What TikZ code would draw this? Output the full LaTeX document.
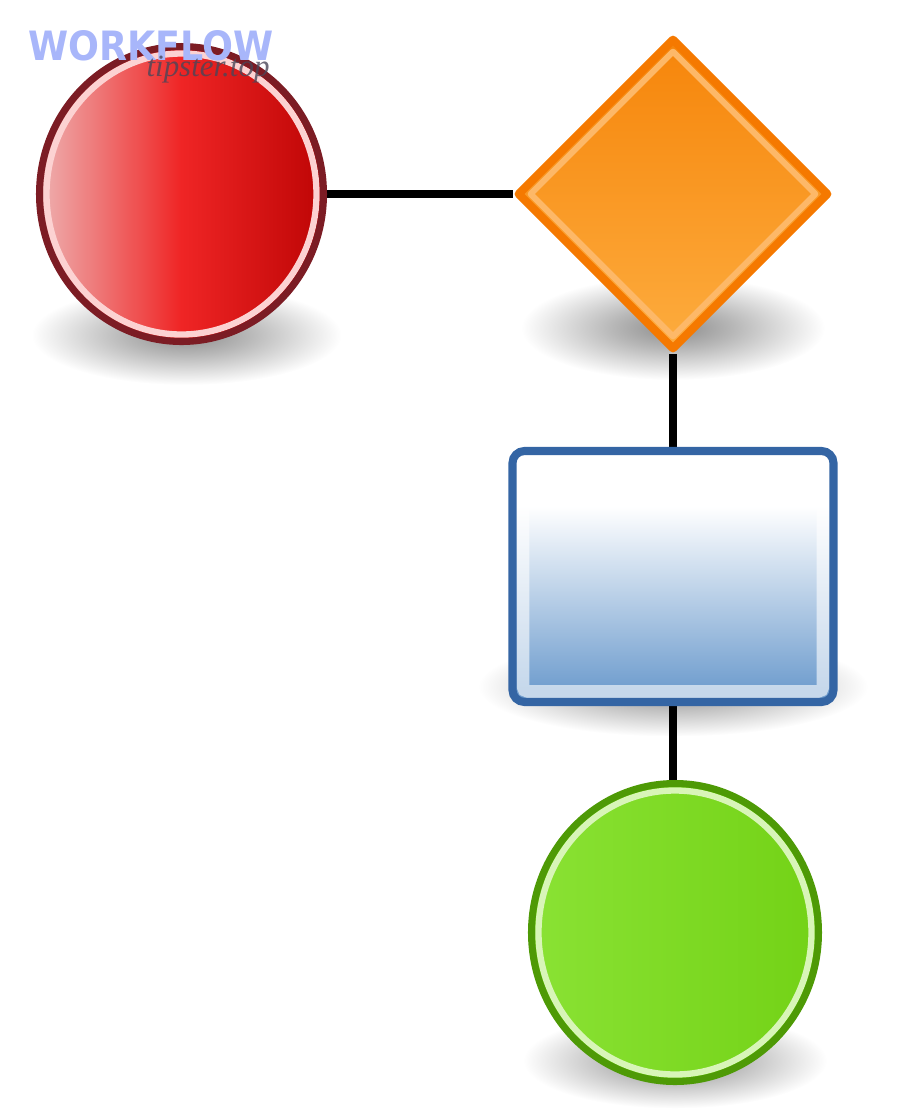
\documentclass[tikz,border=0pt]{standalone}
\usepackage{fontspec}
\usetikzlibrary{shapes.geometric, backgrounds, calc}

\newfontfamily\markfont{DejaVu Sans}
\newfontfamily\sitefont{Liberation Serif}

\definecolor{redrim}{HTML}{7C1C24}
\definecolor{redring}{HTML}{FCD2D2}
\definecolor{redleft}{HTML}{EEB0B0}
\definecolor{redmid}{HTML}{EF2525}
\definecolor{redright}{HTML}{BE0505}
\definecolor{orangerim}{HTML}{F57900}
\definecolor{orangering}{HTML}{FDB868}
\definecolor{orangetop}{HTML}{F6850A}
\definecolor{orangebot}{HTML}{FDAC3E}
\definecolor{bluerim}{HTML}{3465A4}
\definecolor{bluefill}{HTML}{729FCF}
\definecolor{greenrim}{HTML}{4E9A06}
\definecolor{greenring}{HTML}{D8F5B8}
\definecolor{greenleft}{HTML}{8AE234}
\definecolor{greenright}{HTML}{73D216}
\definecolor{marktext}{HTML}{A8B6FA}
\definecolor{sitetext}{HTML}{4A4658}

\pgfdeclareverticalshading{boxfade}{100bp}{color(0bp)=(bluefill); color(28bp)=(bluefill); color(64bp)=(white); color(100bp)=(white)}
\pgfdeclareradialshading{shadowfade}{\pgfpoint{0bp}{0bp}}{color(0bp)=(black!45); color(10bp)=(black!28); color(25bp)=(white); color(50bp)=(white)}

\tikzset{
	startnode/.style = {ellipse, minimum width = 2.84cm, minimum height = 2.95cm, inner sep = 0pt,
		draw = redrim, line width = 2pt,
		left color = redleft, right color = redright, middle color = redmid,
		path picture = {\draw [redring, line width = 1.8pt] (path picture bounding box.center) ellipse [x radius = 1.35cm, y radius = 1.405cm];}},
	endnode/.style = {ellipse, minimum width = 2.87cm, minimum height = 2.98cm, inner sep = 0pt,
		draw = greenrim, line width = 2pt,
		left color = greenleft, right color = greenright,
		path picture = {\draw [greenring, line width = 1.8pt] (path picture bounding box.center) ellipse [x radius = 1.365cm, y radius = 1.42cm];}},
	decision/.style = {diamond, minimum width = 3.12cm, minimum height = 3.12cm, inner sep = 0pt,
		draw = orangerim, line width = 2.3pt, line join = round,
		top color = orangetop, bottom color = orangebot,
		path picture = {\draw [orangering, line width = 1.7pt]
			([yshift = -0.12cm] path picture bounding box.north) -- ([xshift = -0.12cm] path picture bounding box.east)
			-- ([yshift = 0.12cm] path picture bounding box.south) -- ([xshift = 0.12cm] path picture bounding box.west) -- cycle;}},
	task/.style = {rectangle, rounded corners = 0.12cm, minimum width = 3.21cm, minimum height = 2.51cm, inner sep = 0pt,
		draw = bluerim, line width = 2.3pt, shading = boxfade,
		path picture = {\draw [white, opacity = 0.6, line width = 3.6pt, rounded corners = 0.05cm]
			([shift = {(0.105, -0.105)}] path picture bounding box.north west) rectangle
			([shift = {(-0.105, 0.105)}] path picture bounding box.south east);}},
	shadow/.style = {shading = shadowfade},
	link/.style = {black, line width = 2pt}
}

\begin{document}
\begin{tikzpicture}
	
	\useasboundingbox (0, 0) rectangle (9, -11.13);
	
	% Shapes of the flow
	
	\node [startnode] (start) at (1.815, -1.94) {};
	\node [decision] (choice) at (6.73, -1.94) {};
	\node [task] (step) at (6.73, -5.765) {};
	\node [endnode] (stop) at (6.75, -9.325) {};
	
	% Shadows and links, behind the shapes
	
	\begin{scope}[on background layer]
		\path [shadow] ($(start) + (0.05, -1.41)$) ellipse [x radius = 1.55, y radius = 0.5];
		\path [shadow] ($(choice) + (0, -1.34)$) ellipse [x radius = 1.52, y radius = 0.52];
		\path [shadow] ($(step) + (0, -1.1)$) ellipse [x radius = 1.95, y radius = 0.5];
		\path [shadow] ($(stop) + (0, -1.28)$) ellipse [x radius = 1.52, y radius = 0.48];
		
		\draw [link] (start.east) -- (choice.west);
		\draw [link] (choice.south) -- (step.north);
		\draw [link] (step.south) -- (step.south |- stop.north);
	\end{scope}
	
	% Watermark
	
	\node [text = marktext, font = \markfont\bfseries\fontsize{11.5}{12}\selectfont, xscale = 0.9, inner sep = 0pt] (mark) at (1.51, -0.46) {WORKFLOW};
	\node [text = sitetext, opacity = 0.8, font = \sitefont\itshape\fontsize{8.8}{10}\selectfont, inner sep = 0pt] (site) at (2.08, -0.70) {tipster.top};
	
\end{tikzpicture}
\end{document}
